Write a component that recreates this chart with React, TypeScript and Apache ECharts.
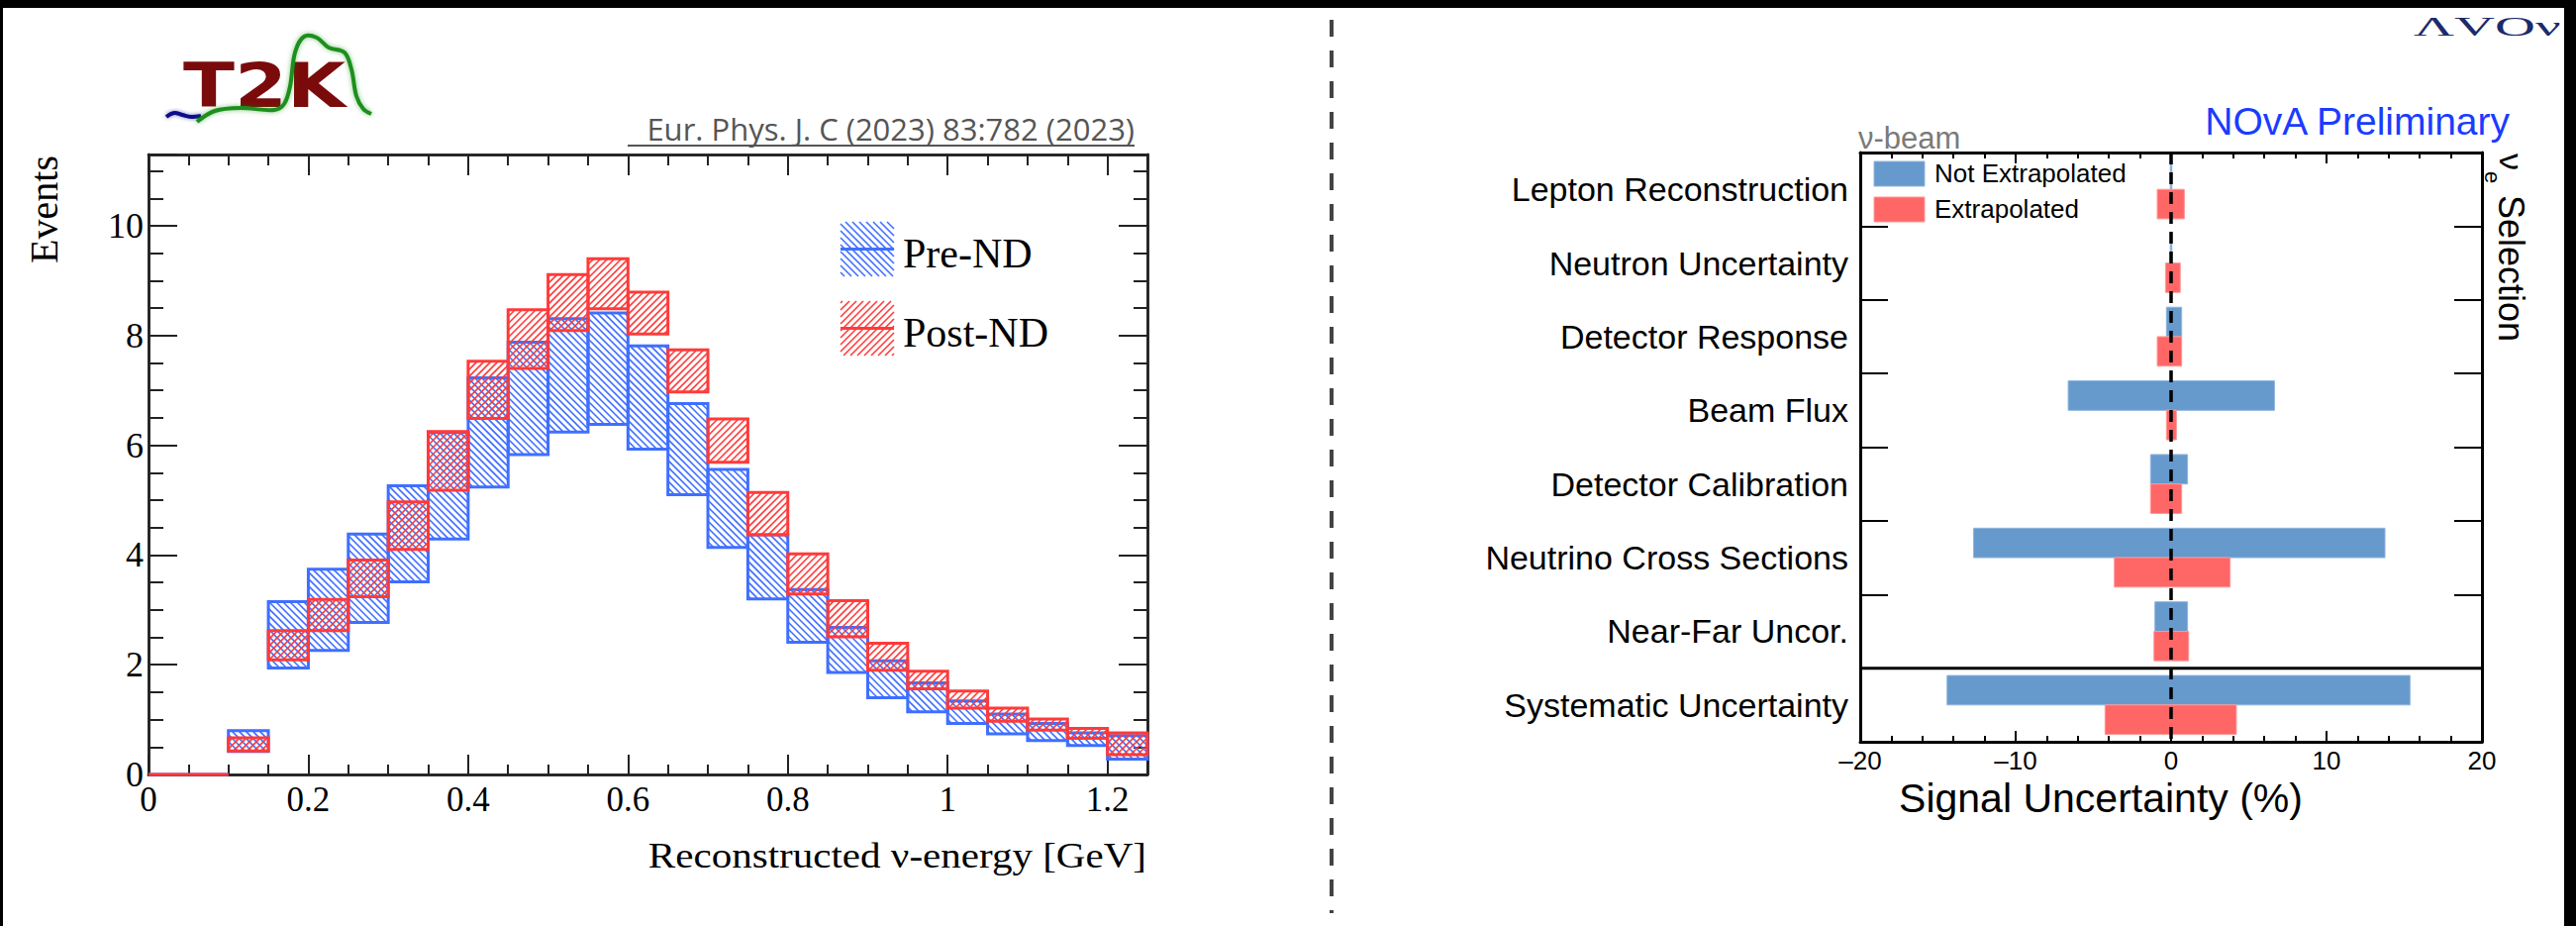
import React, { useEffect, useRef } from "react";
import * as echarts from "echarts";

const SERIF = '"Liberation Serif", "Times New Roman", serif';
const SANS = '"Liberation Sans", Arial, Helvetica, sans-serif';

// ---- T2K: reconstructed neutrino energy, error bands per 0.05 GeV bin ----
const binLowEdges = [
  0.0, 0.05, 0.1, 0.15, 0.2, 0.25, 0.3, 0.35, 0.4, 0.45, 0.5, 0.55, 0.6,
  0.65, 0.7, 0.75, 0.8, 0.85, 0.9, 0.95, 1.0, 1.05, 1.1, 1.15, 1.2,
];
const binWidth = 0.05;
const preNDLow = [
  0, 0, 0.42, 1.94, 2.26, 2.77, 3.51, 4.29, 5.24, 5.83, 6.24, 6.38, 5.93,
  5.1, 4.14, 3.2, 2.41, 1.86, 1.4, 1.14, 0.93, 0.74, 0.62, 0.53, 0.28,
];
const preNDHigh = [
  0, 0, 0.8, 3.15, 3.74, 4.38, 5.26, 6.23, 7.23, 7.88, 8.31, 8.41, 7.81,
  6.76, 5.56, 4.37, 3.37, 2.68, 2.07, 1.67, 1.34, 1.1, 0.93, 0.76, 0.71,
];
const postNDLow = [
  0, 0, 0.43, 2.09, 2.62, 3.24, 4.1, 5.18, 6.49, 7.4, 8.09, 8.49, 8.03,
  6.97, 5.69, 4.37, 3.29, 2.51, 1.9, 1.56, 1.21, 0.97, 0.81, 0.66, 0.36,
];
const postNDHigh = [
  0, 0, 0.67, 2.62, 3.19, 3.91, 4.97, 6.25, 7.53, 8.47, 9.11, 9.4, 8.79,
  7.74, 6.48, 5.14, 4.02, 3.17, 2.39, 1.88, 1.52, 1.21, 1.01, 0.84, 0.76,
];

// ---- NOvA: signal uncertainty by systematic source (%) ----
const sources = [
  "Lepton Reconstruction",
  "Neutron Uncertainty",
  "Detector Response",
  "Beam Flux",
  "Detector Calibration",
  "Neutrino Cross Sections",
  "Near-Far Uncor.",
  "Systematic Uncertainty",
];
const notExtrapLow = [-0.05, -0.05, -0.3, -6.62, -1.32, -12.71, -1.04, -14.41];
const notExtrapHigh = [0.05, 0.05, 0.68, 6.65, 1.06, 13.76, 1.06, 15.37];
const extrapLow = [-0.89, -0.36, -0.89, -0.3, -1.32, -3.65, -1.1, -4.25];
const extrapHigh = [0.85, 0.59, 0.68, 0.34, 0.68, 3.8, 1.13, 4.2];

const BLUE_LINE = "#3f6fff";
const RED_LINE = "#ff3a3a";

// Diagonal hatch segments clipped to a rectangle (pixel space).
function hatch(x: number, y: number, w: number, h: number, s: number, dir: "up" | "down") {
  const segs: number[][] = [];
  if (w <= 0 || h <= 0) return segs;
  if (dir === "up") {
    const cMin = x + y;
    const cMax = x + w + y + h;
    for (let c = Math.ceil(cMin / s) * s; c <= cMax; c += s) {
      const ya = Math.max(y, c - (x + w));
      const yb = Math.min(y + h, c - x);
      if (yb > ya) segs.push([c - ya, ya, c - yb, yb]);
    }
  } else {
    const cMin = x - (y + h);
    const cMax = x + w - y;
    for (let c = Math.ceil(cMin / s) * s; c <= cMax; c += s) {
      const ya = Math.max(y, x - c);
      const yb = Math.min(y + h, x + w - c);
      if (yb > ya) segs.push([c + ya, ya, c + yb, yb]);
    }
  }
  return segs;
}

function hatchLines(segs: number[][], color: string, width: number) {
  return segs.map((s) => ({
    type: "line",
    shape: { x1: s[0], y1: s[1], x2: s[2], y2: s[3] },
    style: { stroke: color, lineWidth: width },
  }));
}

function bandRenderer(color: string, dir: "up" | "down") {
  return (params: any, api: any) => {
    const x0 = api.value(0);
    const x1 = api.value(1);
    const lo = api.value(2);
    const hi = api.value(3);
    const a = api.coord([x0, hi]);
    const b = api.coord([x1, lo]);
    const x = a[0];
    const y = a[1];
    const w = b[0] - a[0];
    const h = b[1] - a[1];
    const children: any[] = hatchLines(hatch(x, y, w, h, 7, dir), color, 1.6);
    children.push({
      type: "rect",
      shape: { x, y, width: w, height: h },
      style: { fill: "none", stroke: color, lineWidth: 3 },
    });
    return { type: "group", children };
  };
}

function barRenderer(color: string, edge: string, upper: boolean) {
  return (params: any, api: any) => {
    const i = api.value(0);
    const a = api.coord([api.value(1), i]);
    const b = api.coord([api.value(2), i]);
    const band = api.size([0, 1])[1];
    const bh = band * 0.4;
    return {
      type: "rect",
      shape: { x: a[0], y: upper ? a[1] - bh : a[1], width: b[0] - a[0], height: bh },
      style: { fill: color, stroke: edge, lineWidth: 1 },
    };
  };
}

function legendBox(x: number, y: number, color: string, dir: "up" | "down") {
  const w = 54;
  const h = 55;
  return [
    ...hatchLines(hatch(x, y, w, h, 7, dir), color, 1.6),
    {
      type: "line",
      shape: { x1: x, y1: y + h / 2, x2: x + w, y2: y + h / 2 },
      style: { stroke: color, lineWidth: 3 },
    },
  ];
}

const fmtMultiple = (step: number) => (v: number) =>
  Math.abs(v / step - Math.round(v / step)) < 1e-6 ? String(+v.toFixed(2)) : "";

const frameLine = { show: true, onZero: false, lineStyle: { color: "#222", width: 2.5 } };

function leftX(position: string, interval: number, len: number, labels: boolean) {
  return {
    type: "value",
    gridIndex: 0,
    position,
    min: 0,
    max: 1.25,
    interval,
    axisLine: frameLine,
    axisTick: { show: true, inside: true, length: len, lineStyle: { color: "#222", width: 2 } },
    axisLabel: labels
      ? { show: true, fontFamily: SERIF, fontSize: 35, color: "#000", margin: 8, formatter: fmtMultiple(0.2) }
      : { show: false },
    splitLine: { show: false },
  };
}

function leftY(position: string, interval: number, len: number, labels: boolean) {
  return {
    type: "value",
    gridIndex: 0,
    position,
    min: 0,
    max: 11.3,
    interval,
    axisLine: frameLine,
    axisTick: { show: true, inside: true, length: len, lineStyle: { color: "#222", width: 2 } },
    axisLabel: labels
      ? { show: true, fontFamily: SERIF, fontSize: 36, color: "#000", margin: 5, formatter: fmtMultiple(2) }
      : { show: false },
    splitLine: { show: false },
  };
}

const dash = (v: number) => (v < 0 ? "\u2013" + Math.abs(v) : String(v));

function rightX(position: string, labels: boolean) {
  return {
    type: "value",
    gridIndex: 1,
    position,
    min: -20,
    max: 20,
    interval: 10,
    axisLine: { show: true, onZero: false, lineStyle: { color: "#000", width: 3 } },
    axisTick: { show: true, inside: true, length: 11, lineStyle: { color: "#000", width: 2 } },
    minorTick: { show: true, splitNumber: 5, length: 6, lineStyle: { color: "#000", width: 2 } },
    axisLabel: labels
      ? { show: true, fontFamily: SANS, fontSize: 26, color: "#000", margin: 6, formatter: dash }
      : { show: false },
    splitLine: { show: false },
    minorSplitLine: { show: false },
    name: labels ? "Signal Uncertainty (%)" : "",
    nameLocation: "middle",
    nameGap: 35,
    nameTextStyle: {
      fontFamily: SANS,
      fontSize: 41,
      color: "#000",
      padding: [0, 142, 0, 0],
    },
  };
}

function rightY(position: string, labels: boolean) {
  return {
    type: "category",
    gridIndex: 1,
    position,
    inverse: true,
    data: sources,
    axisLine: { show: true, onZero: false, lineStyle: { color: "#000", width: 3 } },
    axisTick: { show: true, inside: true, interval: 0, length: 28, lineStyle: { color: "#000", width: 2 } },
    axisLabel: labels
      ? { show: true, interval: 0, fontFamily: SANS, fontSize: 34, color: "#000", margin: 12 }
      : { show: false },
    splitLine: { show: false },
  };
}

export default function App() {
  const ref = useRef<HTMLDivElement>(null);

  useEffect(() => {
    if (!ref.current) return;
    const chart = echarts.init(ref.current, undefined, { renderer: "svg" });

    const preData = binLowEdges.map((x, i) => [x, x + binWidth, preNDLow[i], preNDHigh[i]]);
    const postData = binLowEdges.map((x, i) => [x, x + binWidth, postNDLow[i], postNDHigh[i]]);
    const notExtrapData = sources.map((_, i) => [i, notExtrapLow[i], notExtrapHigh[i]]);
    const extrapData = sources.map((_, i) => [i, extrapLow[i], extrapHigh[i]]);

    const option: any = {
      animation: false,
      backgroundColor: "#fff",
      textStyle: { fontFamily: SANS },
      grid: [
        { left: 150, top: 156, width: 1009, height: 626 },
        { left: 1879, top: 154, width: 628, height: 595 },
      ],
      xAxis: [
        leftX("bottom", 0.05, 10, false),
        leftX("bottom", 0.2, 20, true),
        leftX("top", 0.05, 11, false),
        leftX("top", 0.2, 21, false),
        rightX("bottom", true),
        rightX("top", false),
      ],
      yAxis: [
        leftY("left", 0.5, 15, false),
        leftY("left", 2, 29, true),
        leftY("right", 0.5, 14, false),
        leftY("right", 2, 29, false),
        rightY("left", true),
        rightY("right", false),
      ],
      series: [
        {
          name: "Pre-ND",
          type: "custom",
          xAxisIndex: 1,
          yAxisIndex: 1,
          z: 2,
          renderItem: bandRenderer(BLUE_LINE, "down"),
          encode: { x: [0, 1], y: [2, 3] },
          data: preData,
        },
        {
          name: "Post-ND",
          type: "custom",
          xAxisIndex: 1,
          yAxisIndex: 1,
          z: 3,
          renderItem: bandRenderer(RED_LINE, "up"),
          encode: { x: [0, 1], y: [2, 3] },
          data: postData,
        },
        {
          name: "Not Extrapolated",
          type: "custom",
          xAxisIndex: 4,
          yAxisIndex: 4,
          z: 2,
          renderItem: barRenderer("#6699cc", "#8fb5df", true),
          encode: { x: [1, 2], y: 0 },
          data: notExtrapData,
        },
        {
          name: "Extrapolated",
          type: "custom",
          xAxisIndex: 4,
          yAxisIndex: 4,
          z: 2,
          renderItem: barRenderer("#ff6666", "#ff9a9a", false),
          encode: { x: [1, 2], y: 0 },
          data: extrapData,
        },
        {
          // zero reference and the total-uncertainty separator
          name: "Guides",
          type: "custom",
          xAxisIndex: 4,
          yAxisIndex: 4,
          z: 5,
          silent: true,
          renderItem: (params: any, api: any) => {
            const cs = params.coordSys;
            const x0 = api.coord([api.value(0), 0])[0];
            const last = sources.length - 1;
            const band = api.size([0, 1])[1];
            const ySep = api.coord([0, last])[1] - band / 2;
            return {
              type: "group",
              children: [
                {
                  type: "line",
                  shape: { x1: cs.x, y1: ySep, x2: cs.x + cs.width, y2: ySep },
                  style: { stroke: "#000", lineWidth: 3 },
                },
                {
                  type: "line",
                  shape: { x1: x0, y1: cs.y, x2: x0, y2: cs.y + cs.height },
                  style: { stroke: "#000", lineWidth: 3.5, lineDash: [12, 8] },
                },
              ],
            };
          },
          encode: { x: 0, y: 1 },
          data: [[0, 0]],
        },
      ],
      graphic: [
        // T2K logo
        {
          type: "text",
          x: 185,
          y: 86,
          scaleX: 1.21,
          silent: true,
          style: {
            text: "T2K",
            fill: "#7b0b0b",
            fontFamily: '"DejaVu Sans", sans-serif',
            fontWeight: "bold",
            fontSize: 63,
            align: "left",
            verticalAlign: "middle",
          },
        },
        {
          type: "polyline",
          silent: true,
          shape: {
            points: [
              [168, 118], [176, 114], [184, 116], [193, 118], [203, 117],
            ],
            smooth: 0.4,
          },
          style: { stroke: "#0b0b8c", lineWidth: 4, fill: "none", shadowBlur: 4, shadowColor: "rgba(0,0,140,0.5)" },
        },
        {
          type: "polyline",
          silent: true,
          shape: {
            points: [
              [199, 123], [217, 112], [243, 109], [277, 111], [287, 105], [293, 87],
              [298, 53], [307, 37], [320, 38], [332, 48], [348, 53], [355, 70],
              [360, 97], [367, 110], [375, 115],
            ],
            smooth: 0.35,
          },
          style: { stroke: "#1e8f1e", lineWidth: 4, fill: "none", shadowBlur: 5, shadowColor: "rgba(0,130,0,0.5)" },
        },
        // publication reference
        {
          type: "text",
          x: 1146,
          y: 130,
          silent: true,
          style: {
            text: "Eur. Phys. J. C (2023) 83:782 (2023)",
            fill: "#555",
            fontFamily: '"Open Sans", sans-serif',
            fontSize: 31,
            align: "right",
            verticalAlign: "middle",
          },
        },
        {
          type: "line",
          silent: true,
          shape: { x1: 634, y1: 147, x2: 1146, y2: 147 },
          style: { stroke: "#555", lineWidth: 2 },
        },
        // left axis titles
        {
          type: "text",
          x: 44,
          y: 157,
          rotation: Math.PI / 2,
          silent: true,
          style: {
            text: "Events",
            fill: "#000",
            fontFamily: SERIF,
            fontSize: 40,
            align: "right",
            verticalAlign: "middle",
          },
        },
        {
          type: "text",
          x: 1158,
          y: 864,
          scaleX: 1.14,
          silent: true,
          style: {
            text: "Reconstructed \u03bd-energy [GeV]",
            fill: "#000",
            fontFamily: SERIF,
            fontSize: 36,
            align: "right",
            verticalAlign: "middle",
          },
        },
        // left legend
        ...legendBox(849, 224, BLUE_LINE, "down"),
        ...legendBox(849, 304, RED_LINE, "up"),
        {
          type: "text",
          x: 912,
          y: 256,
          silent: true,
          style: { text: "Pre-ND", fill: "#000", fontFamily: SERIF, fontSize: 42, verticalAlign: "middle" },
        },
        {
          type: "text",
          x: 912,
          y: 336,
          silent: true,
          style: { text: "Post-ND", fill: "#000", fontFamily: SERIF, fontSize: 42, verticalAlign: "middle" },
        },
        // divider between the two panels
        {
          type: "line",
          silent: true,
          shape: { x1: 1345, y1: 20, x2: 1345, y2: 922 },
          style: { stroke: "#444", lineWidth: 4, lineDash: [17, 14] },
        },
        // right panel annotations
        {
          type: "text",
          x: 1877,
          y: 139,
          silent: true,
          style: { text: "\u03bd-beam", fill: "#7a7a7a", fontFamily: SANS, fontSize: 31, verticalAlign: "middle" },
        },
        {
          type: "text",
          x: 2535,
          y: 122,
          silent: true,
          style: {
            text: "NOvA Preliminary",
            fill: "#1a3cff",
            fontFamily: SANS,
            fontSize: 39,
            align: "right",
            verticalAlign: "middle",
          },
        },
        {
          type: "rect",
          silent: true,
          shape: { x: 1893, y: 163, width: 51, height: 25 },
          style: { fill: "#6699cc", stroke: "#8fb5df", lineWidth: 1 },
        },
        {
          type: "rect",
          silent: true,
          shape: { x: 1893, y: 199, width: 51, height: 25 },
          style: { fill: "#ff6666", stroke: "#ff9a9a", lineWidth: 1 },
        },
        {
          type: "text",
          x: 1954,
          y: 175,
          silent: true,
          style: { text: "Not Extrapolated", fill: "#000", fontFamily: SANS, fontSize: 26, verticalAlign: "middle" },
        },
        {
          type: "text",
          x: 1954,
          y: 211,
          silent: true,
          style: { text: "Extrapolated", fill: "#000", fontFamily: SANS, fontSize: 26, verticalAlign: "middle" },
        },
        {
          type: "text",
          x: 2537,
          y: 155,
          rotation: -Math.PI / 2,
          silent: true,
          style: { text: "\u03bd", fill: "#000", fontFamily: SANS, fontSize: 34, align: "left", verticalAlign: "middle" },
        },
        {
          type: "text",
          x: 2517,
          y: 173,
          rotation: -Math.PI / 2,
          silent: true,
          style: { text: "e", fill: "#000", fontFamily: SANS, fontSize: 22, align: "left", verticalAlign: "middle" },
        },
        {
          type: "text",
          x: 2536,
          y: 197,
          rotation: -Math.PI / 2,
          silent: true,
          style: { text: "Selection", fill: "#000", fontFamily: SANS, fontSize: 36, align: "left", verticalAlign: "middle" },
        },
        {
          type: "text",
          x: 2438,
          y: 27,
          scaleX: 2.1,
          silent: true,
          style: { text: "\u039bVO\u03bd", fill: "#1c2b6b", fontFamily: SERIF, fontSize: 27, verticalAlign: "middle" },
        },
        // page frame
        { type: "rect", silent: true, shape: { x: 0, y: 0, width: 2602, height: 8 }, style: { fill: "#000" } },
        { type: "rect", silent: true, shape: { x: 0, y: 0, width: 3, height: 935 }, style: { fill: "#000" } },
        { type: "rect", silent: true, shape: { x: 2590, y: 0, width: 12, height: 935 }, style: { fill: "#000" } },
      ],
    };

    chart.setOption(option);
    return () => chart.dispose();
  }, []);

  return (
    <div
      ref={ref}
      style={{ position: "fixed", left: 0, top: 0, width: 2602, height: 935, background: "#fff" }}
    />
  );
}
